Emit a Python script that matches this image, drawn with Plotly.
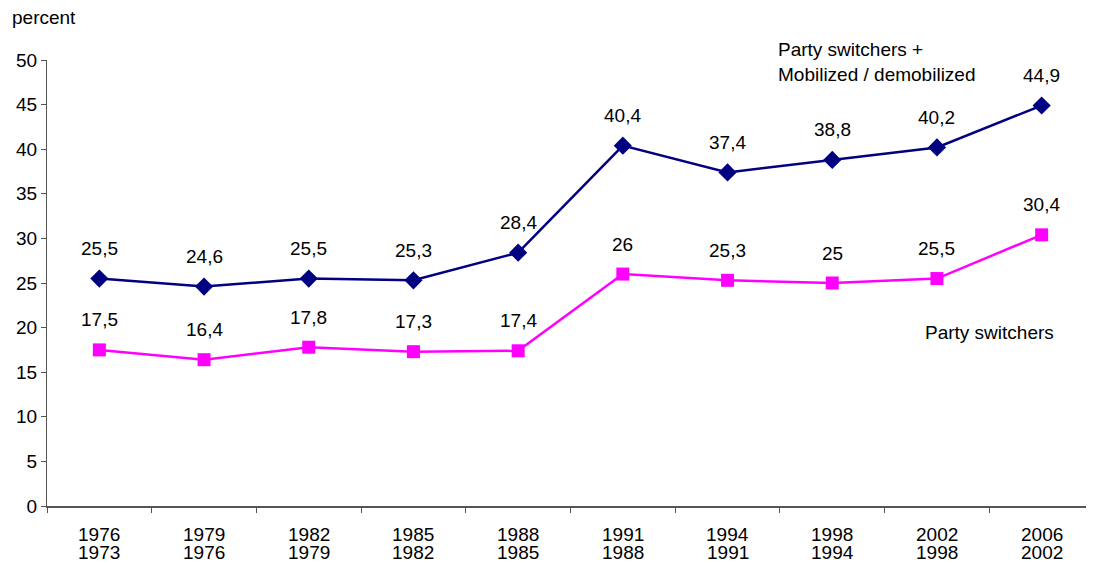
import plotly.graph_objects as go

# ==========================================================
# Data
# ==========================================================

top_years = ["1976", "1979", "1982", "1985", "1988", "1991", "1994", "1998", "2002", "2006"]
bottom_years = ["1973", "1976", "1979", "1982", "1985", "1988", "1991", "1994", "1998", "2002"]

switchers_mobilized = [25.5, 24.6, 25.5, 25.3, 28.4, 40.4, 37.4, 38.8, 40.2, 44.9]
switchers = [17.5, 16.4, 17.8, 17.3, 17.4, 26, 25.3, 25, 25.5, 30.4]

periods = [f"{a}-{b}" for a, b in zip(top_years, bottom_years)]

NAVY = "#000080"
MAGENTA = "#FF00FF"
AXIS = "#555555"
FONT = "Liberation Sans, Arial, sans-serif"
FS = 19


def fmt(v):
    # decimal comma, drop ".0"
    return f"{v:g}".replace(".", ",")


fig = go.Figure()

fig.add_trace(go.Scatter(
    x=periods,
    y=switchers_mobilized,
    mode="lines+markers",
    line=dict(color=NAVY, width=2.5),
    marker=dict(symbol="diamond", size=14, color=NAVY),
    name="Party switchers + Mobilized / demobilized",
))

fig.add_trace(go.Scatter(
    x=periods,
    y=switchers,
    mode="lines+markers",
    line=dict(color=MAGENTA, width=2.5),
    marker=dict(symbol="square", size=13, color=MAGENTA),
    name="Party switchers",
))

# value labels above each point
for series in (switchers_mobilized, switchers):
    for p, v in zip(periods, series):
        fig.add_annotation(
            x=p, y=v, text=fmt(v), showarrow=False,
            yshift=30, font=dict(size=FS, color="black", family=FONT),
        )

# two-line category labels (tight line spacing like the original)
for p, a, b in zip(periods, top_years, bottom_years):
    fig.add_annotation(
        x=p, xref="x", y=0, yref="paper", text=a, showarrow=False,
        yanchor="middle", yshift=-28,
        font=dict(size=FS, color="black", family=FONT),
    )
    fig.add_annotation(
        x=p, xref="x", y=0, yref="paper", text=b, showarrow=False,
        yanchor="middle", yshift=-46,
        font=dict(size=FS, color="black", family=FONT),
    )

# series labels
fig.add_annotation(
    xref="paper", yref="paper", x=0.696, y=0.995,
    xanchor="left", yanchor="middle", align="left", showarrow=False,
    text="Party switchers +<br>Mobilized / demobilized",
    font=dict(size=FS, color="black", family=FONT),
)
fig.add_annotation(
    xref="paper", yref="paper", x=0.837, y=0.39,
    xanchor="left", yanchor="middle", showarrow=False,
    text="Party switchers",
    font=dict(size=FS, color="black", family=FONT),
)
fig.add_annotation(
    xref="paper", yref="paper", x=-0.035, y=1.096,
    xanchor="left", yanchor="middle", showarrow=False,
    text="percent",
    font=dict(size=FS, color="black", family=FONT),
)

fig.update_layout(
    width=1086,
    height=555,
    showlegend=False,
    plot_bgcolor="white",
    paper_bgcolor="white",
    font=dict(family=FONT, size=FS, color="black"),
    margin=dict(l=39, r=0, t=52, b=57),
    xaxis=dict(
        type="category",
        range=[-0.5, 9.5],
        tickson="boundaries",
        ticks="outside",
        ticklen=5,
        tickcolor=AXIS,
        showline=True,
        linecolor=AXIS,
        linewidth=1.5,
        showgrid=False,
        showticklabels=False,
    ),
    yaxis=dict(
        range=[0, 50],
        dtick=5,
        ticks="outside",
        ticklen=5,
        tickcolor=AXIS,
        showline=True,
        linecolor=AXIS,
        linewidth=1,
        showgrid=False,
        zeroline=False,
        tickfont=dict(size=FS),
    ),
)

fig.write_html("out.html")
